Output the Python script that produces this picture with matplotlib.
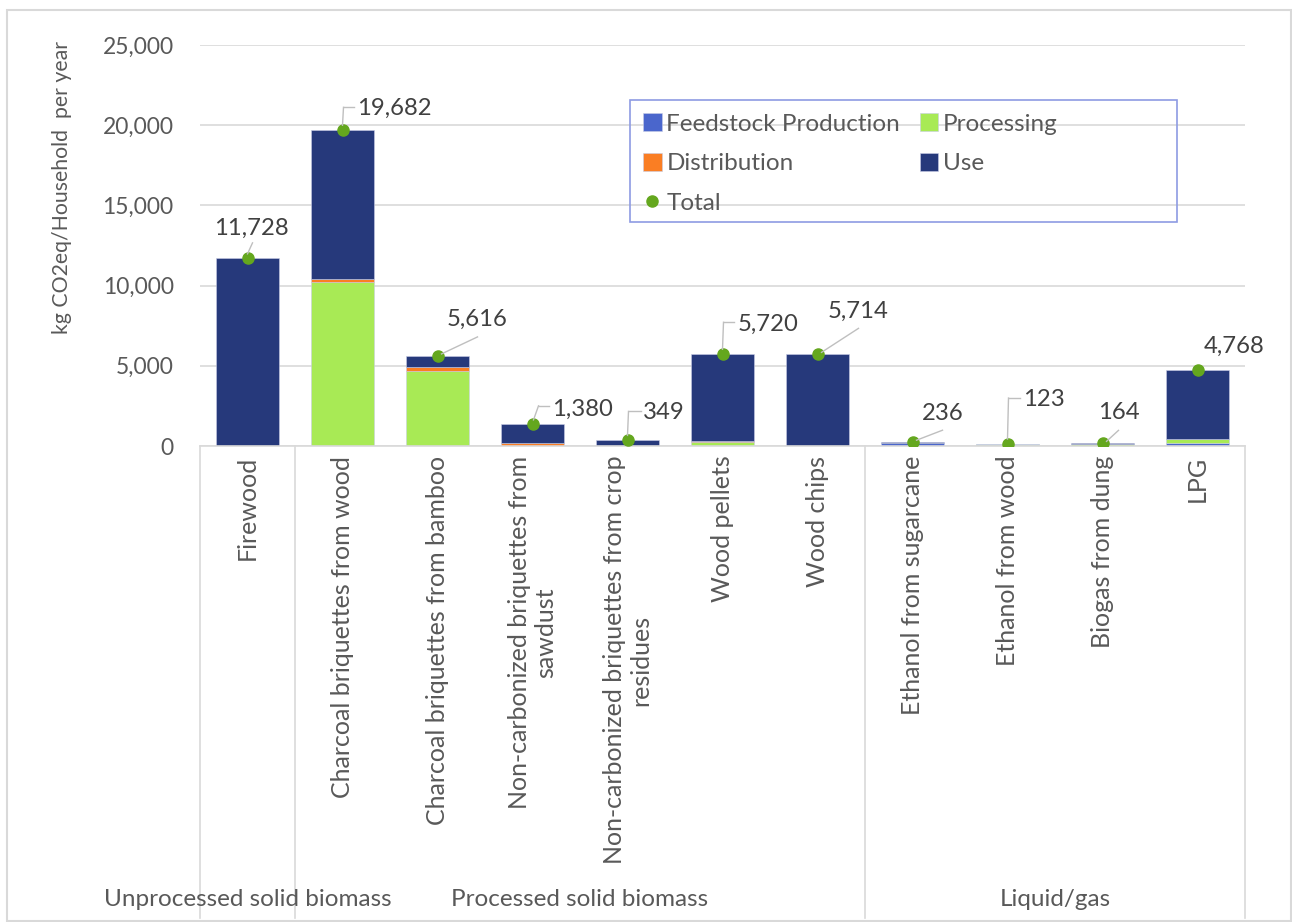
import numpy as np
import matplotlib.pyplot as plt
from matplotlib.patches import Rectangle
from matplotlib.ticker import FuncFormatter
from matplotlib.transforms import offset_copy, blended_transform_factory

plt.rcParams['font.family'] = ['Lato', 'DejaVu Sans']

fuels = ["Firewood", "Charcoal briquettes from wood", "Charcoal briquettes from bamboo",
         "Non-carbonized briquettes from\nsawdust", "Non-carbonized briquettes from crop\nresidues",
         "Wood pellets", "Wood chips", "Ethanol from sugarcane", "Ethanol from wood",
         "Biogas from dung", "LPG"]
feedstock = [0, 0, 0, 0, 0, 0, 0, 200, 50, 0, 210]
processing = [0, 10250, 4694, 0, 0, 270, 0, 0, 60, 110, 210]
distribution = [0, 190, 210, 170, 0, 60, 0, 0, 0, 0, 0]
use = [11728, 9242, 712, 1210, 349, 5390, 5714, 36, 13, 54, 4348]
total = [11728, 19682, 5616, 1380, 349, 5720, 5714, 236, 123, 164, 4768]
groups = ["Unprocessed solid biomass", "Processed solid biomass", "Liquid/gas"]
group_edges = [-0.5, 0.5, 6.5, 10.5]

grey = "#595959"
c_feed, c_proc, c_dist, c_use, c_tot = "#4A66CC", "#A8EA55", "#FA7E23", "#26397B", "#64A71E"

fig = plt.figure(figsize=(12.92, 9.22), dpi=100)
ax = fig.add_axes([200/1292, 1-446/922, 1045/1292, 401/922])

x = np.arange(len(fuels))
w = 0.66
bottom = np.zeros(len(fuels))
bars = []
for vals, col, name in [(feedstock, c_feed, "Feedstock Production"), (processing, c_proc, "Processing"),
                        (distribution, c_dist, "Distribution"), (use, c_use, "Use")]:
    b = ax.bar(x, vals, w, bottom=bottom, color=col, label=name, zorder=2,
               edgecolor="#c8cde6", linewidth=0.4)
    bars.append(b)
    bottom += np.array(vals)
pts, = ax.plot(x, total, "o", color=c_tot, markersize=8, label="Total", zorder=4, linestyle="none")

ax.set_xlim(-0.5, 10.5)
ax.set_ylim(0, 25000)
ax.set_yticks(np.arange(0, 25001, 5000))
ax.yaxis.set_major_formatter(FuncFormatter(lambda v, p: f"{v:,.0f}"))
ax.grid(axis="y", color="#D9D9D9", linewidth=1.2, zorder=0)
ax.set_axisbelow(True)
for s in ["top", "right", "left"]:
    ax.spines[s].set_visible(False)
ax.spines["bottom"].set_color("#D9D9D9")
ax.spines["bottom"].set_linewidth(1.2)
ax.tick_params(axis="y", length=0, pad=19, labelsize=16.5, labelcolor=grey)
ax.set_xticks(x)
ax.set_xticklabels(fuels, rotation=90, fontsize=18, color=grey)
ax.tick_params(axis="x", length=0, pad=7)

# group separators and group labels under the category axis
tr = blended_transform_factory(ax.transData, ax.transAxes)
for e in group_edges:
    ax.plot([e, e], [0, -1.177], color="#D9D9D9", linewidth=1.2, transform=tr, clip_on=False)
for g, (a, b) in zip(groups, zip(group_edges[:-1], group_edges[1:])):
    ax.text((a + b) / 2, -1.132, g, transform=tr, ha="center", va="center",
            fontsize=17.5, color=grey)

fig.text(62/1292, 1-188/922, "kg CO2eq/Household  per year", rotation=90,
         ha="center", va="center", fontsize=15.3, color=grey)

# data labels with leader lines (pixel offsets from each marker)
label_pos = [(4, 30, "center", [(0, 4), (5, 15)]),
             (15, 22, "left", [(0, 5), (1, 23), (11, 23)]),
             (40, 37, "center", [(4, 2), (40, 19)]),
             (20, 15, "left", [(1, 4), (6, 18), (16, 18)]),
             (15, 28, "left", [(0, 5), (1, 29), (13, 29)]),
             (15, 30, "left", [(0, 5), (1, 32), (11, 32)]),
             (41, 43, "center", [(4, 2), (41, 26)]),
             (30, 29, "center", [(4, 2), (30, 12)]),
             (16, 45, "left", [(0, 5), (1, 46), (12, 46)]),
             (16, 31, "center", [(4, 2), (16, 13)]),
             (37, 23, "center", [])]
for xi, t, (dx, dy, ha, path) in zip(x, total, label_pos):
    ttr = offset_copy(ax.transData, fig=fig, x=dx, y=dy, units="dots")
    ax.text(xi, t, f"{t:,}", transform=ttr, ha=ha, va="center", fontsize=17.2, color="#404040", zorder=5)
    for j in range(len(path) - 1):
        t0 = offset_copy(ax.transData, fig=fig, x=path[j][0], y=path[j][1], units="dots")
        t1 = offset_copy(ax.transData, fig=fig, x=path[j+1][0], y=path[j+1][1], units="dots")
        d0 = t0.transform((xi, t))
        d1 = t1.transform((xi, t))
        fig.add_artist(plt.Line2D([d0[0]/1292, d1[0]/1292], [d0[1]/922, d1[1]/922],
                                  color="#BFBFBF", linewidth=1.0, transform=fig.transFigure))

handles = [bars[0], bars[2], pts, bars[1], bars[3]]
leg = fig.legend(handles, [h.get_label() for h in handles], ncol=2, loc="upper left",
                 bbox_to_anchor=(630/1292, 1-100/922), borderaxespad=0, fontsize=17.5,
                 frameon=False, handlelength=0.75, handleheight=0.75,
                 handletextpad=0.2, columnspacing=0.8, labelspacing=0.75, borderpad=0.55,
                 labelcolor=grey)
fig.add_artist(Rectangle((630/1292, 1-222/922), 547/1292, 122/922, transform=fig.transFigure,
                         fill=False, edgecolor="#8E9BE3", linewidth=1.2))

fig.add_artist(Rectangle((7/1292, 1/922), 1284/1292, 911/922, transform=fig.transFigure,
                         fill=False, edgecolor="#D9D9D9", linewidth=1.5))

fig.savefig("out.png", dpi=100)
